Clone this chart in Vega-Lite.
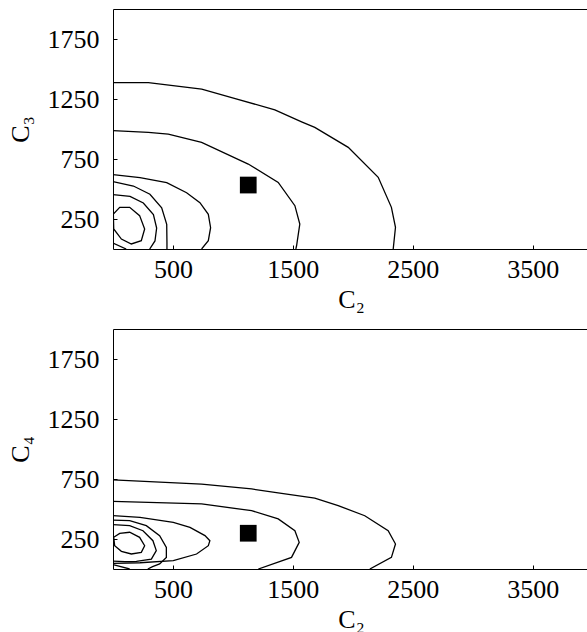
{
  "$schema": "https://vega.github.io/schema/vega-lite/v6.json",
  "background": "white",
  "padding": {"left": 7, "top": 9, "right": 0, "bottom": 5},
  "spacing": 17,
  "config": {
    "view": {"stroke": null},
    "axis": {
      "labelFont": "Liberation Serif, DejaVu Serif",
      "titleFont": "Liberation Serif, DejaVu Serif",
      "labelFontSize": 26,
      "titleFontSize": 26,
      "titleFontWeight": "normal",
      "grid": false,
      "domainColor": "black",
      "tickColor": "black",
      "labelColor": "black",
      "titleColor": "black",
      "tickSize": -4,
      "domainWidth": 1,
      "labelFlush": false,
      "format": "d"
    }
  },
  "datasets": {
    "A": [
      {"c":1,"i":0,"x":0,"y":1386},{"c":1,"i":1,"x":295,"y":1386},{"c":1,"i":2,"x":740,"y":1333},{"c":1,"i":3,"x":1012,"y":1255},{"c":1,"i":4,"x":1350,"y":1160},{"c":1,"i":5,"x":1573,"y":1060},{"c":1,"i":6,"x":1683,"y":1013},{"c":1,"i":7,"x":1962,"y":847},{"c":1,"i":8,"x":2212,"y":597},{"c":1,"i":9,"x":2322,"y":347},{"c":1,"i":10,"x":2356,"y":180},{"c":1,"i":11,"x":2337,"y":0},
      {"c":2,"i":0,"x":0,"y":986},{"c":2,"i":1,"x":295,"y":972},{"c":2,"i":2,"x":461,"y":958},{"c":2,"i":3,"x":739,"y":888},{"c":2,"i":4,"x":1128,"y":708},{"c":2,"i":5,"x":1378,"y":555},{"c":2,"i":6,"x":1517,"y":361},{"c":2,"i":7,"x":1558,"y":208},{"c":2,"i":8,"x":1531,"y":27},{"c":2,"i":9,"x":1525,"y":0},
      {"c":3,"i":0,"x":0,"y":619},{"c":3,"i":1,"x":225,"y":594},{"c":3,"i":2,"x":448,"y":553},{"c":3,"i":3,"x":614,"y":469},{"c":3,"i":4,"x":725,"y":386},{"c":3,"i":5,"x":795,"y":289},{"c":3,"i":6,"x":814,"y":178},{"c":3,"i":7,"x":795,"y":69},{"c":3,"i":8,"x":739,"y":0},
      {"c":4,"i":0,"x":0,"y":561},{"c":4,"i":1,"x":170,"y":525},{"c":4,"i":2,"x":308,"y":456},{"c":4,"i":3,"x":406,"y":344},{"c":4,"i":4,"x":448,"y":206},{"c":4,"i":5,"x":450,"y":55},{"c":4,"i":6,"x":450,"y":0},
      {"c":5,"i":0,"x":0,"y":453},{"c":5,"i":1,"x":142,"y":439},{"c":5,"i":2,"x":253,"y":383},{"c":5,"i":3,"x":337,"y":286},{"c":5,"i":4,"x":364,"y":175},{"c":5,"i":5,"x":350,"y":67},{"c":5,"i":6,"x":306,"y":0},
      {"c":6,"i":0,"x":3,"y":292},{"c":6,"i":1,"x":56,"y":347},{"c":6,"i":2,"x":139,"y":347},{"c":6,"i":3,"x":222,"y":278},{"c":6,"i":4,"x":264,"y":167},{"c":6,"i":5,"x":236,"y":69},{"c":6,"i":6,"x":153,"y":42},{"c":6,"i":7,"x":70,"y":83},{"c":6,"i":8,"x":6,"y":167},{"c":6,"i":9,"x":3,"y":292},
      {"c":7,"i":0,"x":0,"y":50},{"c":7,"i":1,"x":110,"y":0}
    ],
    "B": [
      {"c":1,"i":0,"x":0,"y":742},{"c":1,"i":1,"x":739,"y":708},{"c":1,"i":2,"x":1156,"y":667},{"c":1,"i":3,"x":1406,"y":630},{"c":1,"i":4,"x":1683,"y":590},{"c":1,"i":5,"x":1878,"y":528},{"c":1,"i":6,"x":2100,"y":444},{"c":1,"i":7,"x":2295,"y":319},{"c":1,"i":8,"x":2356,"y":208},{"c":1,"i":9,"x":2322,"y":97},{"c":1,"i":10,"x":2142,"y":0},
      {"c":2,"i":0,"x":0,"y":563},{"c":2,"i":1,"x":739,"y":542},{"c":2,"i":2,"x":1156,"y":486},{"c":2,"i":3,"x":1378,"y":417},{"c":2,"i":4,"x":1517,"y":319},{"c":2,"i":5,"x":1553,"y":222},{"c":2,"i":6,"x":1489,"y":97},{"c":2,"i":7,"x":1212,"y":0},
      {"c":3,"i":0,"x":0,"y":444},{"c":3,"i":1,"x":225,"y":430},{"c":3,"i":2,"x":503,"y":388},{"c":3,"i":3,"x":642,"y":347},{"c":3,"i":4,"x":767,"y":278},{"c":3,"i":5,"x":808,"y":236},{"c":3,"i":6,"x":795,"y":194},{"c":3,"i":7,"x":697,"y":125},{"c":3,"i":8,"x":503,"y":69},{"c":3,"i":9,"x":225,"y":52},{"c":3,"i":10,"x":0,"y":47},
      {"c":4,"i":0,"x":0,"y":408},{"c":4,"i":1,"x":139,"y":403},{"c":4,"i":2,"x":278,"y":361},{"c":4,"i":3,"x":389,"y":278},{"c":4,"i":4,"x":445,"y":180},{"c":4,"i":5,"x":445,"y":97},{"c":4,"i":6,"x":389,"y":42},{"c":4,"i":7,"x":330,"y":20},{"c":4,"i":8,"x":290,"y":0},
      {"c":5,"i":0,"x":0,"y":369},{"c":5,"i":1,"x":139,"y":361},{"c":5,"i":2,"x":250,"y":319},{"c":5,"i":3,"x":333,"y":236},{"c":5,"i":4,"x":361,"y":153},{"c":5,"i":5,"x":320,"y":83},{"c":5,"i":6,"x":195,"y":63},{"c":5,"i":7,"x":100,"y":62},{"c":5,"i":8,"x":0,"y":65},
      {"c":6,"i":0,"x":6,"y":264},{"c":6,"i":1,"x":56,"y":297},{"c":6,"i":2,"x":139,"y":306},{"c":6,"i":3,"x":222,"y":264},{"c":6,"i":4,"x":264,"y":194},{"c":6,"i":5,"x":236,"y":139},{"c":6,"i":6,"x":153,"y":125},{"c":6,"i":7,"x":70,"y":147},{"c":6,"i":8,"x":14,"y":194},{"c":6,"i":9,"x":6,"y":264},
      {"c":7,"i":0,"x":0,"y":36},{"c":7,"i":1,"x":139,"y":0}
    ],
    "PA": [{"x":1128,"y":533}],
    "PB": [{"x":1128,"y":298}]
  },
  "vconcat": [
    {
      "width": 476,
      "height": 240,
      "resolve": {"axis": {"x": "independent"}},
      "layer": [
        {
          "data": {"name": "A"},
          "mark": {"type": "line", "color": "black", "strokeWidth": 1.3, "clip": true},
          "encoding": {
            "x": {"field": "x", "type": "quantitative", "scale": {"domain": [0, 3970], "nice": false, "zero": false},
                  "axis": {"values": [500, 1500, 2500, 3500], "labelPadding": 11, "titlePadding": 4, "title": "C₂"}},
            "y": {"field": "y", "type": "quantitative", "scale": {"domain": [0, 2000], "nice": false, "zero": false},
                  "axis": {"values": [250, 750, 1250, 1750], "labelPadding": 18, "titlePadding": 14, "title": "C₃"}},
            "detail": {"field": "c"},
            "order": {"field": "i"}
          }
        },
        {
          "data": {"name": "PA"},
          "mark": {"type": "square", "color": "black", "size": 280, "opacity": 1},
          "encoding": {
            "x": {"field": "x", "type": "quantitative", "axis": null},
            "y": {"field": "y", "type": "quantitative"}
          }
        },
        {
          "data": {"name": "PA"},
          "mark": {"type": "point", "opacity": 0},
          "encoding": {
            "x": {"field": "x", "type": "quantitative", "axis": {"orient": "top", "labels": false, "ticks": false, "title": null}},
            "y": {"field": "y", "type": "quantitative"}
          }
        }
      ]
    },
    {
      "width": 476,
      "height": 240,
      "resolve": {"axis": {"x": "independent"}},
      "layer": [
        {
          "data": {"name": "B"},
          "mark": {"type": "line", "color": "black", "strokeWidth": 1.3, "clip": true},
          "encoding": {
            "x": {"field": "x", "type": "quantitative", "scale": {"domain": [0, 3970], "nice": false, "zero": false},
                  "axis": {"values": [500, 1500, 2500, 3500], "labelPadding": 11, "titlePadding": 4, "title": "C₂"}},
            "y": {"field": "y", "type": "quantitative", "scale": {"domain": [0, 2000], "nice": false, "zero": false},
                  "axis": {"values": [250, 750, 1250, 1750], "labelPadding": 18, "titlePadding": 14, "title": "C₄"}},
            "detail": {"field": "c"},
            "order": {"field": "i"}
          }
        },
        {
          "data": {"name": "PB"},
          "mark": {"type": "square", "color": "black", "size": 280, "opacity": 1},
          "encoding": {
            "x": {"field": "x", "type": "quantitative", "axis": null},
            "y": {"field": "y", "type": "quantitative"}
          }
        },
        {
          "data": {"name": "PB"},
          "mark": {"type": "point", "opacity": 0},
          "encoding": {
            "x": {"field": "x", "type": "quantitative", "axis": {"orient": "top", "labels": false, "ticks": false, "title": null}},
            "y": {"field": "y", "type": "quantitative"}
          }
        }
      ]
    }
  ]
}
